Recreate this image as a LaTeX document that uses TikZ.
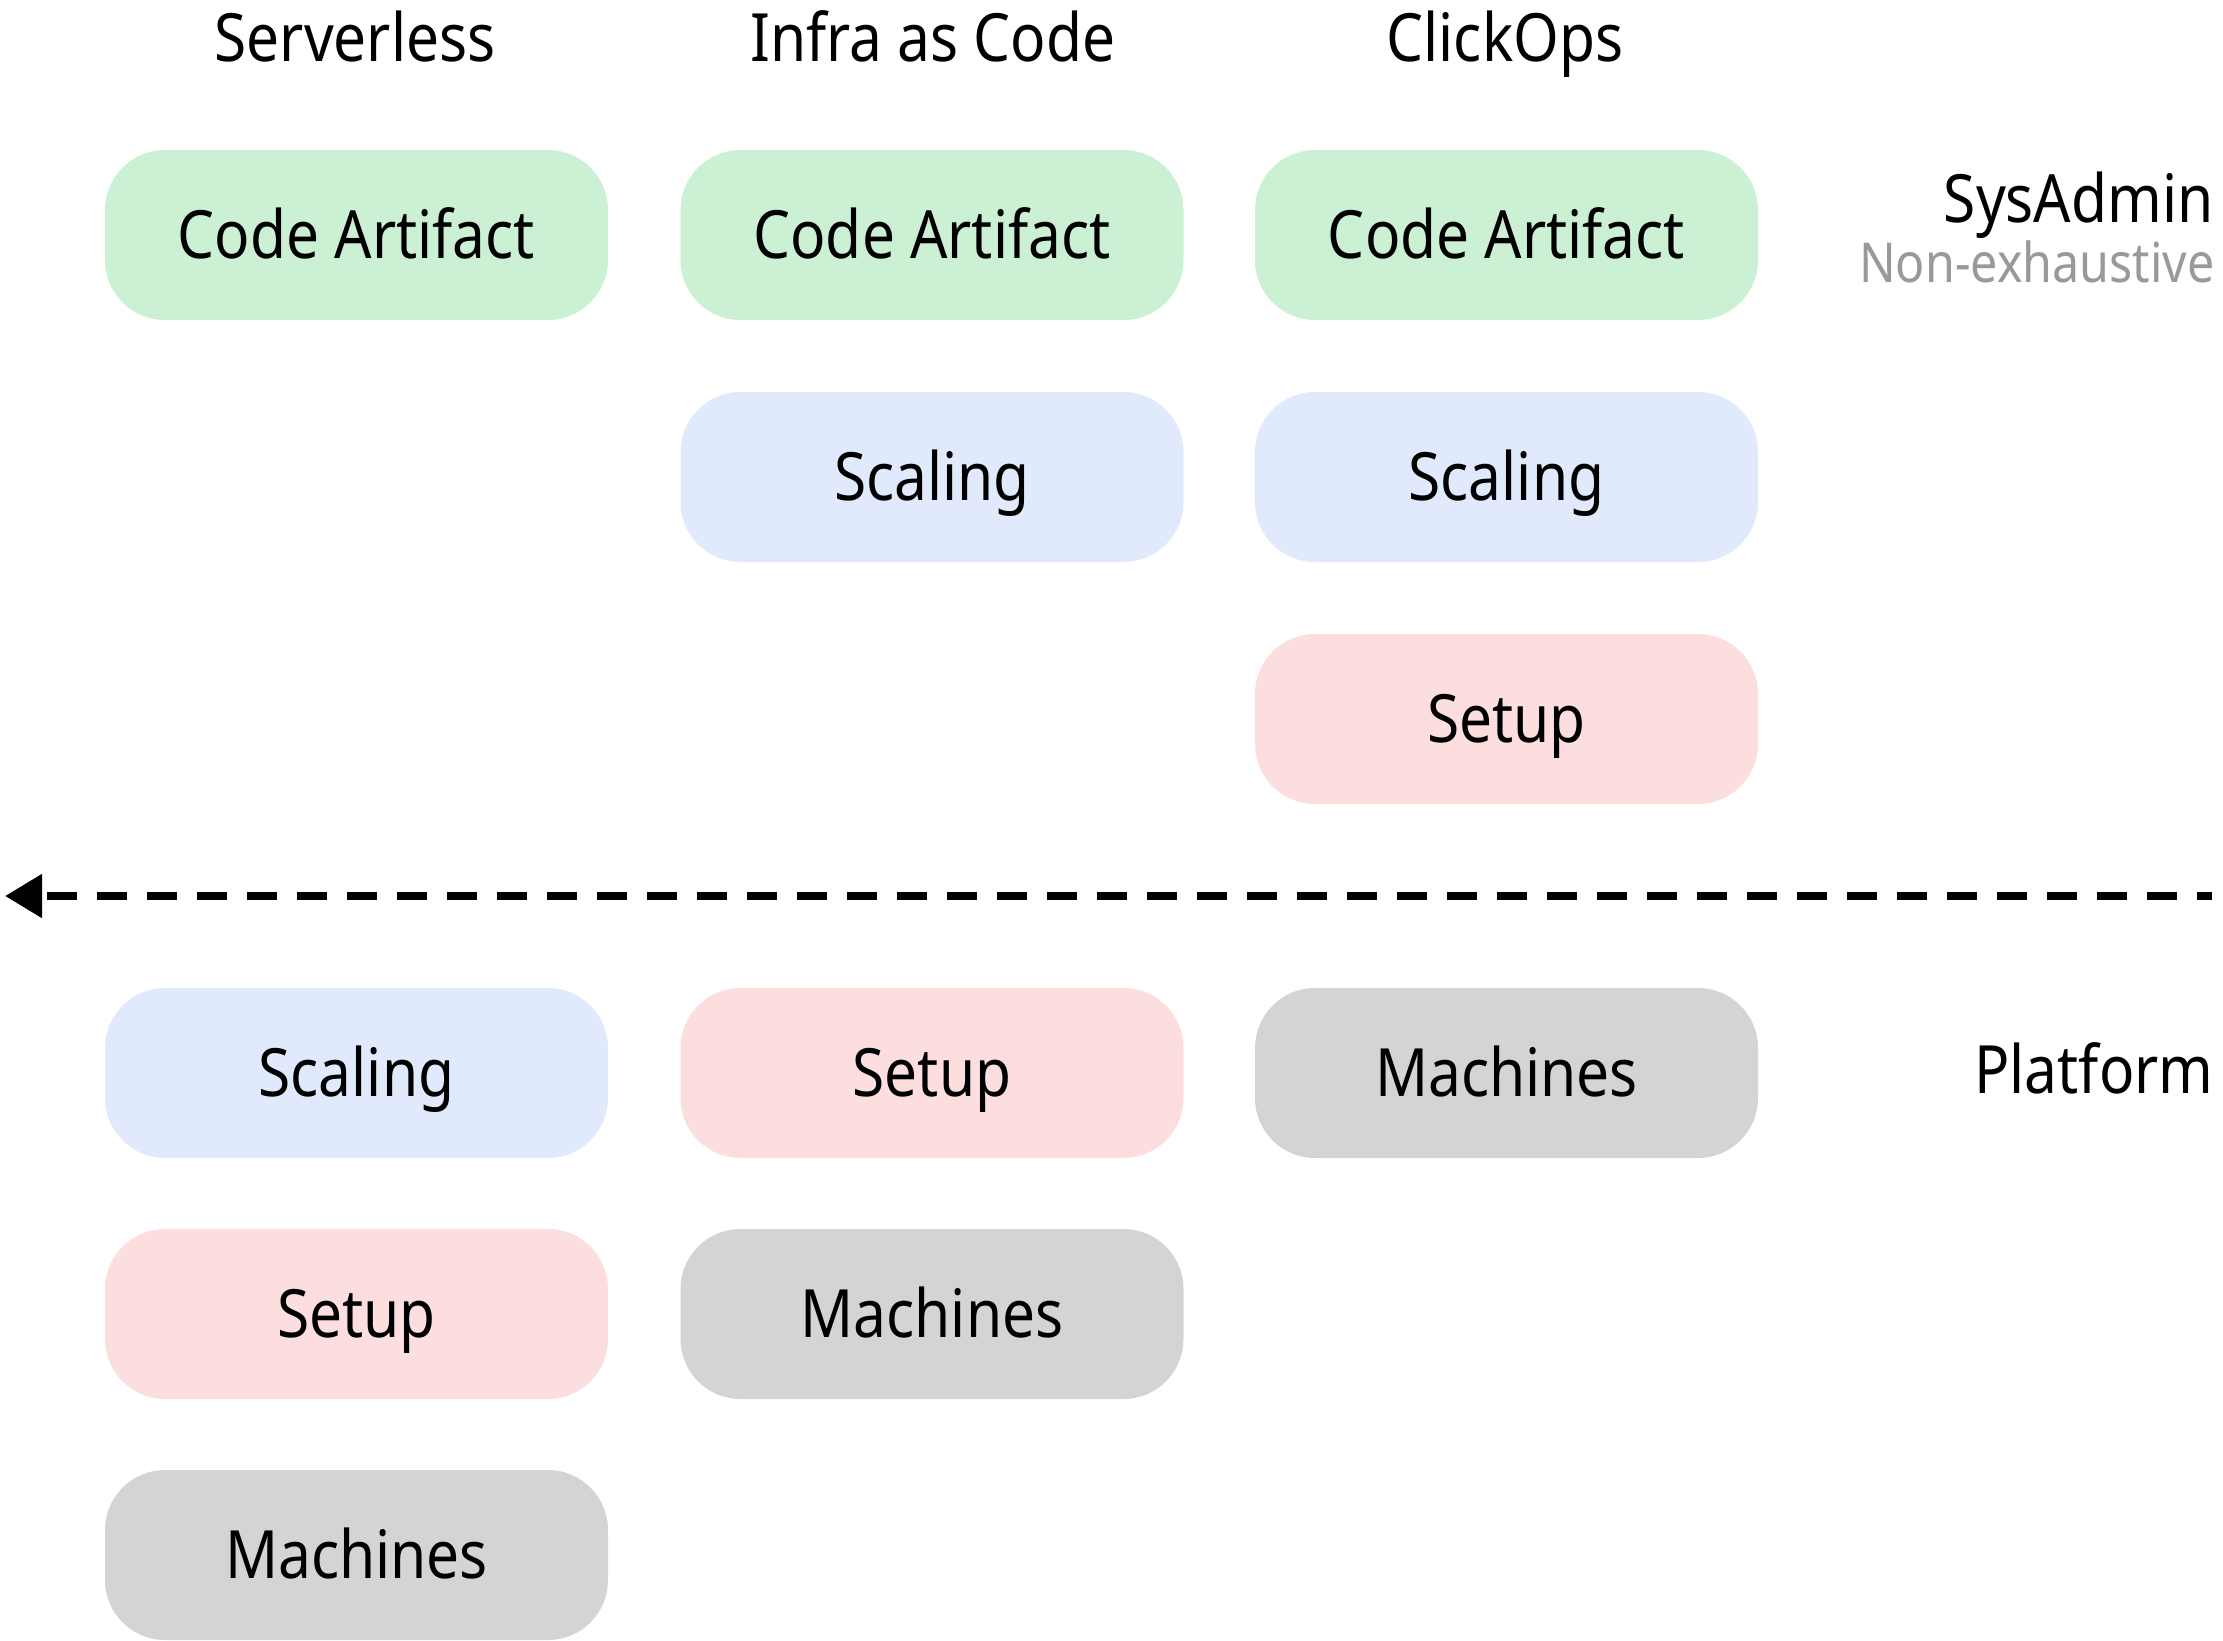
\documentclass[tikz,border=0pt]{standalone}
\usepackage{fontspec}
\setmainfont[FakeStretch=0.88]{Noto Sans}
\usetikzlibrary{arrows.meta}

\definecolor{artifactfill}{HTML}{CCF0D3}
\definecolor{scalingfill}{HTML}{E1EAFD}
\definecolor{setupfill}{HTML}{FDDEDE}
\definecolor{machinesfill}{HTML}{D4D4D4}
\definecolor{notegray}{HTML}{999999}

\begin{document}
\begin{tikzpicture}[x=0.5pt, y=-0.5pt,
  bigtext/.style={font=\fontsize{33.3}{40}\selectfont, inner sep=0pt,
    text height=23.8pt, text depth=0pt},
  layer/.style={bigtext, rounded corners=30pt, minimum width=251.5pt,
    minimum height=85pt},
  artifact/.style={layer, fill=artifactfill},
  scaling/.style={layer, fill=scalingfill},
  setup/.style={layer, fill=setupfill},
  machines/.style={layer, fill=machinesfill},
  heading/.style={bigtext},
  sidelabel/.style={bigtext, anchor=east},
  note/.style={font=\fontsize{27.5}{32}\selectfont, inner sep=0pt,
    text height=19.6pt, text depth=0pt, anchor=east, text=notegray},
  boundary/.style={line width=4pt, dash pattern=on 15pt off 10pt,
    dash phase=7.5pt, -{Triangle[length=18.5pt, width=21pt]}}
]
\useasboundingbox (0,0) rectangle (2223,1640);
\clip (0,0) rectangle (2223,1640);

% column headings
\node[heading] (hServerless) at (355,38) {Serverless};
\node[heading] (hIaC) at (933,38) {Infra as Code};
\node[heading] (hClickOps) at (1505,38) {ClickOps};

% right-hand labels
\node[sidelabel] (sysadmin) at (2214,199) {SysAdmin};
\node[note] (nonexh) at (2215,263) {Non-exhaustive};
\node[sidelabel] (platform) at (2214,1070) {Platform};

% SysAdmin side
\node[artifact] (s1) at (356.5,235) {Code Artifact};
\node[artifact] (i1) at (932,235) {Code Artifact};
\node[artifact] (c1) at (1506.5,235) {Code Artifact};
\node[scaling] (i2) at (932,477) {Scaling};
\node[scaling] (c2) at (1506.5,477) {Scaling};
\node[setup] (c3) at (1506.5,719) {Setup};

% boundary between responsibilities
\coordinate (lineR) at (2212,896);
\coordinate (lineL) at (5,896);
\draw[boundary] (lineR) -- (lineL);

% Platform side
\node[scaling] (s4) at (356.5,1073) {Scaling};
\node[setup] (i4) at (932,1073) {Setup};
\node[machines] (c4) at (1506.5,1073) {Machines};
\node[setup] (s5) at (356.5,1314) {Setup};
\node[machines] (i5) at (932,1314) {Machines};
\node[machines] (s6) at (356.5,1555) {Machines};
\end{tikzpicture}
\end{document}
